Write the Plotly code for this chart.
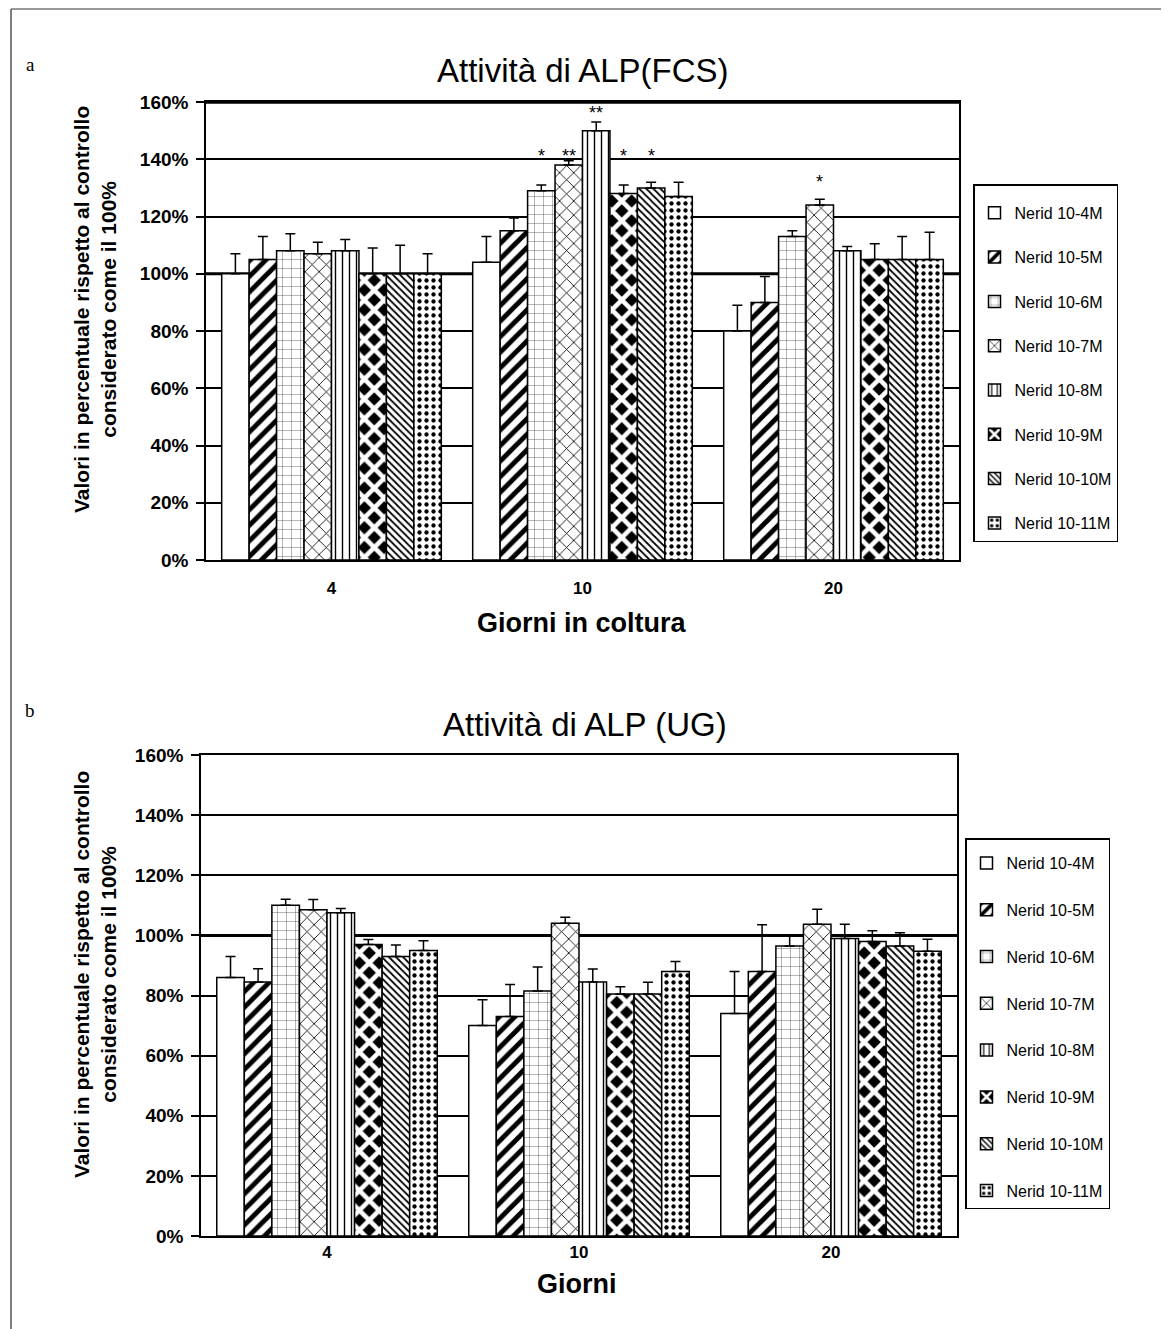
import plotly.graph_objects as go

# ---------------- data ----------------
days = ["4", "10", "20"]
series_names = ["Nerid 10-4M", "Nerid 10-5M", "Nerid 10-6M", "Nerid 10-7M",
                "Nerid 10-8M", "Nerid 10-9M", "Nerid 10-10M", "Nerid 10-11M"]

fcs_s1 = [100, 104, 80]
fcs_s2 = [105, 115, 90]
fcs_s3 = [108, 129, 113]
fcs_s4 = [107, 138, 124]
fcs_s5 = [108, 150, 108]
fcs_s6 = [100, 128, 105]
fcs_s7 = [100, 130, 105]
fcs_s8 = [100, 127, 105]

fcs_e1 = [7, 9, 9]
fcs_e2 = [8, 4.5, 9]
fcs_e3 = [6, 2, 2]
fcs_e4 = [4, 1.5, 2]
fcs_e5 = [4, 3, 1.5]
fcs_e6 = [9, 3, 5.5]
fcs_e7 = [10, 2, 8]
fcs_e8 = [7, 5, 9.5]

ug_s1 = [86, 70, 74]
ug_s2 = [84.5, 73, 88]
ug_s3 = [110, 81.5, 96.5]
ug_s4 = [108.5, 104, 103.7]
ug_s5 = [107.5, 84.5, 99]
ug_s6 = [97, 80.5, 98]
ug_s7 = [93, 80.5, 96.5]
ug_s8 = [95, 88, 94.7]

ug_e1 = [7, 8.6, 14]
ug_e2 = [4.4, 10.7, 15.5]
ug_e3 = [2, 8, 3.7]
ug_e4 = [3.4, 2, 5]
ug_e5 = [1.4, 4.3, 4.7]
ug_e6 = [1.6, 2.4, 3.5]
ug_e7 = [3.8, 3.9, 4.4]
ug_e8 = [3.2, 3.3, 4]

# significance marks on chart a: (day index, series index, label, level %)
star_day = [1, 1, 1, 1, 1, 2]
star_series = [2, 3, 4, 5, 6, 3]
star_text = ["*", "**", "**", "*", "*", "*"]
star_level = [141, 141, 156, 141, 141, 132]

y_ticks = [0, 20, 40, 60, 80, 100, 120, 140, 160]
y_tick_labels = [f"{v}%" for v in y_ticks]

fcs_values = [fcs_s1, fcs_s2, fcs_s3, fcs_s4, fcs_s5, fcs_s6, fcs_s7, fcs_s8]
fcs_errors = [fcs_e1, fcs_e2, fcs_e3, fcs_e4, fcs_e5, fcs_e6, fcs_e7, fcs_e8]
ug_values = [ug_s1, ug_s2, ug_s3, ug_s4, ug_s5, ug_s6, ug_s7, ug_s8]
ug_errors = [ug_e1, ug_e2, ug_e3, ug_e4, ug_e5, ug_e6, ug_e7, ug_e8]

# ---------------- styles ----------------
patterns = [
    dict(shape=""),
    dict(shape="/", size=11, solidity=0.45, fgcolor="black", bgcolor="white"),
    dict(shape="+", size=9, solidity=0.08, fgcolor="#333", bgcolor="white"),
    dict(shape="x", size=10, solidity=0.16, fgcolor="black", bgcolor="white"),
    dict(shape="|", size=7, solidity=0.2, fgcolor="black", bgcolor="white"),
    dict(shape="x", size=14, solidity=0.55, fgcolor="white", bgcolor="black"),
    dict(shape="\\", size=5, solidity=0.35, fgcolor="black", bgcolor="white"),
    dict(shape=".", size=7, solidity=0.3, fgcolor="black", bgcolor="white"),
]

FONT = "Liberation Sans, Arial, sans-serif"
BARGAP = 0.125
W, H = 1169, 1329
OFF = 8  # page body offset

fig = go.Figure()
xs = list(range(len(days)))

for i, name in enumerate(series_names):
    fig.add_trace(go.Bar(
        x=xs, y=fcs_values[i], name=name, xaxis="x", yaxis="y",
        legend="legend", legendgroup="a%d" % i,
        marker=dict(color="white", line=dict(color="black", width=1.5),
                    pattern=patterns[i]),
        error_y=dict(type="data", array=fcs_errors[i], symmetric=False,
                     arrayminus=[0] * len(days), color="black",
                     thickness=1.5, width=5),
    ))
for i, name in enumerate(series_names):
    fig.add_trace(go.Bar(
        x=xs, y=ug_values[i], name=name, xaxis="x2", yaxis="y2",
        legend="legend2", legendgroup="b%d" % i,
        marker=dict(color="white", line=dict(color="black", width=1.5),
                    pattern=patterns[i]),
        error_y=dict(type="data", array=ug_errors[i], symmetric=False,
                     arrayminus=[0] * len(days), color="black",
                     thickness=1.5, width=5),
    ))

axis_common = dict(showline=True, mirror=True, linecolor="black", linewidth=1.5,
                   automargin=False)
xcommon = dict(range=[-0.5, 2.5], tickvals=xs, ticktext=days, ticks="",
               tickfont=dict(family=FONT, size=17, color="black", weight="bold"),
               showgrid=False, zeroline=False, **axis_common)
ycommon = dict(range=[0, 160], tickvals=y_ticks, ticktext=y_tick_labels, ticks="outside",
               ticklen=8, tickwidth=1.5, tickcolor="black", ticklabelstandoff=4,
               tickfont=dict(family=FONT, size=19, color="black", weight="bold"),
               showgrid=True, gridcolor="black", gridwidth=1.5, zeroline=False,
               **axis_common)

def px_x(p):
    return (p - OFF) / W

def px_y(p):
    return 1 - (p - OFF) / H

fig.update_layout(
    template="none",
    width=W, height=H,
    margin=dict(l=0, r=0, t=0, b=0, pad=0, autoexpand=False),
    paper_bgcolor="white", plot_bgcolor="white",
    barmode="group", bargap=BARGAP, bargroupgap=0,
    xaxis=dict(domain=[px_x(206), px_x(959)], anchor="y", ticklabelstandoff=12, **xcommon),
    yaxis=dict(domain=[px_y(560), px_y(102)], anchor="x", **ycommon),
    xaxis2=dict(domain=[px_x(201), px_x(957)], anchor="y2", **xcommon),
    yaxis2=dict(domain=[px_y(1236), px_y(755)], anchor="x2", **ycommon),
    legend=dict(x=px_x(973), y=px_y(184), xanchor="left", yanchor="top",
                bordercolor="black", borderwidth=1.5, bgcolor="white",
                font=dict(family=FONT, size=16, color="black"),
                title=dict(text=" ", font=dict(size=8)),
                tracegroupgap=20.5, itemwidth=30),
    legend2=dict(x=px_x(965), y=px_y(838), xanchor="left", yanchor="top",
                 bordercolor="black", borderwidth=1.5, bgcolor="white",
                 font=dict(family=FONT, size=16, color="black"),
                 title=dict(text=" ", font=dict(size=5)),
                 tracegroupgap=23, itemwidth=30),
    showlegend=True,
)

shapes = []
for xr, yr in (("x", "y"), ("x2", "y2")):
    shapes.append(dict(type="line", xref=xr, yref=yr, x0=-0.5, x1=2.5, y0=100, y1=100,
                       line=dict(color="black", width=3), layer="below"))
shapes.append(dict(type="line", xref="x", yref="y", x0=-0.5, x1=2.5, y0=160, y1=160,
                   line=dict(color="black", width=3.5), layer="above"))
# page frame (top and left)
shapes.append(dict(type="line", xref="paper", yref="paper", x0=px_x(11), x1=1,
                   y0=px_y(9), y1=px_y(9), line=dict(color="#777", width=1.5)))
shapes.append(dict(type="line", xref="paper", yref="paper", x0=px_x(11), x1=px_x(11),
                   y0=0, y1=px_y(9), line=dict(color="#555", width=1.5)))
fig.update_layout(shapes=shapes)

def label(text, x, y, size, family=FONT, angle=0):
    return dict(text=text, x=px_x(x), y=px_y(y), xref="paper", yref="paper",
                xanchor="center", yanchor="middle", showarrow=False, textangle=angle,
                font=dict(family=family, size=size, color="black"))

ann = []
ann.append(label("Attività di ALP(FCS)", 583, 71, 33))
ann.append(label("Attività di ALP (UG)", 585, 724, 33))
ann.append(label("<b>Giorni in coltura</b>", 581, 623, 27))
ann.append(label("<b>Giorni</b>", 577, 1284, 27))
ytitle = "<b>Valori in percentuale rispetto al controllo</b><br><b>considerato come il 100%</b>"
ann.append(label(ytitle, 95, 310, 21, angle=-90))
ann.append(label(ytitle, 95, 975, 21, angle=-90))
ann.append(label("a", 30, 64, 19, family="Liberation Serif, serif"))
ann.append(label("b", 30, 710, 19, family="Liberation Serif, serif"))

nser = len(series_names)
bw = (1 - BARGAP) / nser
for d, s, t, lv in zip(star_day, star_series, star_text, star_level):
    ann.append(dict(text=t, x=d + (s - (nser - 1) / 2) * bw, y=lv, xref="x", yref="y",
                    xanchor="center", yanchor="middle",
                    showarrow=False, font=dict(family=FONT, size=18, color="black")))
fig.update_layout(annotations=ann)

fig.write_html("out.html")
